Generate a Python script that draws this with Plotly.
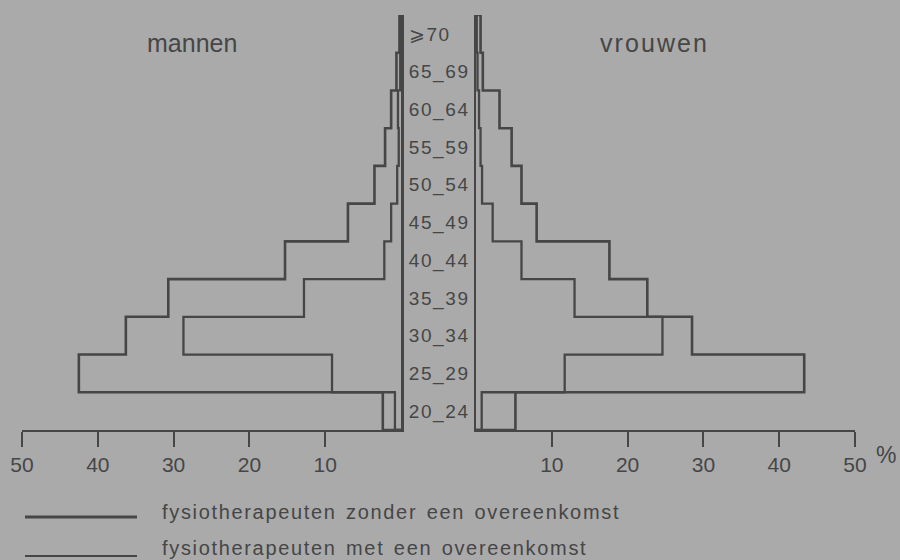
import plotly.graph_objects as go

# Age classes from bottom (youngest) to top (oldest)
age_groups = ["20_24", "25_29", "30_34", "35_39", "40_44", "45_49",
              "50_54", "55_59", "60_64", "65_69", "⩾70"]

# Percentage per age class
men_without = [2.4, 42.5, 36.3, 30.7, 15.3, 7.0, 3.5, 2.1, 1.3, 0.6, 0.2]
men_with = [0.8, 9.1, 28.7, 12.8, 2.2, 1.3, 0.5, 0.3, 0.4, 0.1, 0.1]
women_without = [5.2, 43.3, 28.5, 22.6, 17.6, 8.0, 6.0, 4.7, 3.1, 0.9, 0.6]
women_with = [0.75, 11.7, 24.6, 13.0, 6.0, 2.2, 0.8, 0.6, 0.4, 0.2, 0.1]

pct_ticks = [10, 20, 30, 40, 50]

legend_labels = [
    "fysiotherapeuten zonder een overeenkomst",
    "fysiotherapeuten met een overeenkomst",
]

W, H = 900, 560
BG = "#aaaaaa"
INK = "#464646"
FONT = "Liberation Sans, Arial, sans-serif"
HAIR = "\u200a"


def fx(px):
    return px / W


def fy(py):
    return 1 - py / H


def spaced(text, word_gap=2):
    """Open up lettering: hair space between letters, wider word gaps."""
    words = [HAIR.join(w) for w in text.split(" ")]
    return ("\u00a0" * word_gap).join(words)


def step_outline(values):
    """Closed staircase outline: one vertical run per age class."""
    n = len(values)
    xs = [0] + list(values) + [values[-1], 0]
    ys = [0] + list(range(n)) + [n, n]
    return xs, ys


fig = go.Figure()

series = [
    (men_without, "x", "y", 2.6),
    (men_with, "x", "y", 2.3),
    (women_without, "x2", "y2", 2.6),
    (women_with, "x2", "y2", 2.3),
]
for vals, xa, ya, w in series:
    xs, ys = step_outline(vals)
    fig.add_trace(go.Scatter(
        x=xs, y=ys, xaxis=xa, yaxis=ya, mode="lines",
        line=dict(shape="vh", color=INK, width=w),
        showlegend=False, hoverinfo="skip",
    ))

band_centers = [i + 0.5 for i in range(len(age_groups))]
y_dom = [fy(430), fy(15)]

common_x = dict(
    tickvals=pct_ticks, showline=True, linecolor=INK, linewidth=2,
    ticks="outside", ticklen=15, tickwidth=2, tickcolor=INK,
    showgrid=False, zeroline=False,
    tickfont=dict(family=FONT, size=21, color=INK),
    ticklabelstandoff=0,
)

fig.update_layout(
    width=W, height=H, autosize=False,
    margin=dict(l=0, r=0, t=0, b=0, autoexpand=False),
    paper_bgcolor=BG, plot_bgcolor=BG,
    xaxis=dict(domain=[fx(22), fx(401)], range=[50, 0], anchor="y", **common_x),
    xaxis2=dict(domain=[fx(476), fx(855)], range=[0, 50], anchor="y2", **common_x),
    yaxis=dict(
        domain=y_dom, range=[0, 11], anchor="x", side="right",
        showline=True, linecolor=INK, linewidth=3,
        tickvals=band_centers, ticktext=[HAIR.join(a) for a in age_groups],
        ticks="", showgrid=False, zeroline=False, ticklabelstandoff=1,
        tickfont=dict(family=FONT, size=19, color=INK),
    ),
    yaxis2=dict(
        domain=y_dom, range=[0, 11], anchor="x2", side="left",
        showline=True, linecolor=INK, linewidth=2,
        showticklabels=False, ticks="",
        showgrid=False, zeroline=False,
    ),
    showlegend=False,
)

# Panel titles and unit
fig.add_annotation(text="mannen", x=fx(192), y=fy(43), xref="paper", yref="paper",
                   xanchor="center", yanchor="middle", showarrow=False,
                   font=dict(family=FONT, size=25, color=INK))
fig.add_annotation(text=HAIR.join("vrouwen"), x=fx(653), y=fy(43),
                   xref="paper", yref="paper", xanchor="center", yanchor="middle",
                   showarrow=False, font=dict(family=FONT, size=25, color=INK))
fig.add_annotation(text="%", x=fx(874), y=fy(455), xref="paper", yref="paper",
                   xanchor="left", yanchor="middle", showarrow=False,
                   font=dict(family=FONT, size=23, color=INK))

# Key below the axes
legend_rows = [
    (legend_labels[0], 512, 517, 3),
    (legend_labels[1], 548, 556, 2),
]
for label, ty, ly, lw in legend_rows:
    fig.add_shape(type="line", xref="paper", yref="paper",
                  x0=fx(25), x1=fx(137), y0=fy(ly), y1=fy(ly),
                  line=dict(color=INK, width=lw))
    fig.add_annotation(text=spaced(label), x=fx(160), y=fy(ty),
                       xref="paper", yref="paper",
                       xanchor="left", yanchor="middle", showarrow=False,
                       font=dict(family=FONT, size=20, color=INK))

fig.write_html("out.html")
